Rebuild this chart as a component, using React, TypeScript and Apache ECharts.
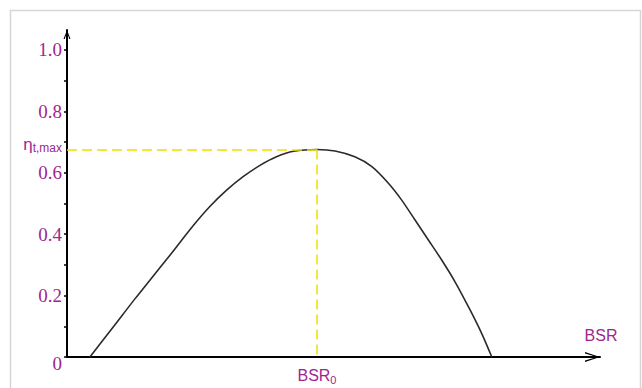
import React, { useEffect, useRef } from "react";
import * as echarts from "echarts";

// Curve: thermal efficiency vs BSR (x in arbitrary units 0..100 along the axis)
const bsrValues = [4.3, 8.6, 13.0, 18.7, 23.7, 26.8, 30.0, 33.1, 36.2, 39.3, 42.5, 46.9, 50.3, 54.0, 57.2, 60.3, 62.8, 65.3, 67.8, 70.3, 72.8, 75.6, 77.9, 79.7];
const etaValues = [0, 0.096, 0.195, 0.318, 0.428, 0.49, 0.544, 0.588, 0.624, 0.652, 0.67, 0.676, 0.671, 0.652, 0.62, 0.566, 0.511, 0.446, 0.381, 0.316, 0.245, 0.154, 0.073, 0];

const peakBsr = 46.9;
const peakEta = 0.676;

const yTickValues = [0, 0.1, 0.2, 0.3, 0.4, 0.5, 0.6, 0.7, 0.8, 0.9, 1.0];
const yLabelValues = [0, 0.2, 0.4, 0.6, 0.8, 1.0];

const PURPLE = "#a0268f";
const YELLOW = "#f0e000";

export default function App() {
  const ref = useRef<HTMLDivElement>(null);

  useEffect(() => {
    document.body.style.margin = "0";
    const chart = echarts.init(ref.current!, null, { renderer: "svg" });
    const option = {
      animation: false,
      backgroundColor: "#ffffff",
      grid: { left: 67, right: 42, top: 30, bottom: 31, containLabel: false },
      graphic: [
        {
          type: "rect",
          z: -10,
          shape: { x: 10.5, y: 10.5, width: 630, height: 400 },
          style: { fill: "none", stroke: "#d6d6d6", lineWidth: 1.5 },
          silent: true,
        },
      ],
      xAxis: {
        type: "value",
        min: 0,
        max: 100,
        name: "BSR",
        nameLocation: "end",
        nameGap: 1,
        nameTextStyle: {
          fontFamily: "Liberation Sans, Arial, sans-serif",
          fontSize: 16,
          color: PURPLE,
          align: "center",
          verticalAlign: "bottom",
          padding: [0, 0, 14, 0],
        },
        splitLine: { show: false },
        axisTick: { show: false },
        axisLine: {
          show: true,
          lineStyle: { color: "#000", width: 2 },
          symbol: ["none", "path://M5,0 L10,15 L8.6,15 L5,3.2 L1.4,15 L0,15 Z"],
          symbolSize: [10, 15],
          symbolOffset: [0, -7.5],
        },
        axisLabel: {
          show: true,
          customValues: [peakBsr],
          margin: 8,
          formatter: () => "{a|BSR}{b|0}",
          rich: {
            a: { fontFamily: "Liberation Sans, Arial, sans-serif", fontSize: 16, color: PURPLE },
            b: { fontFamily: "Liberation Sans, Arial, sans-serif", fontSize: 11, color: PURPLE, padding: [9, 0, 0, 0] },
          },
        },
      },
      yAxis: {
        type: "value",
        min: 0,
        max: 1.065,
        splitLine: { show: false },
        axisLine: {
          show: true,
          lineStyle: { color: "#000", width: 2 },
          symbol: ["none", "path://M3.5,0 L7,9 L5.8,9 L3.5,2.4 L1.2,9 L0,9 Z"],
          symbolSize: [7, 9],
          symbolOffset: [0, -4.5],
        },
        axisTick: {
          show: true,
          customValues: yTickValues,
          length: 3,
          lineStyle: { color: "#000", width: 1.5 },
        },
        axisLabel: {
          show: true,
          customValues: [...yLabelValues, peakEta],
          margin: 5,
          formatter: (v: number) => {
            if (Math.abs(v - peakEta) < 1e-6) return "{eta|η}{sub|t,max}";
            if (v === 0) return "{z|0}";
            return "{n|" + v.toFixed(1) + "}";
          },
          rich: {
            n: { fontFamily: "Liberation Serif, Times New Roman, serif", fontSize: 19, color: PURPLE },
            z: { fontFamily: "Liberation Serif, Times New Roman, serif", fontSize: 19, color: PURPLE, padding: [12, 0, 0, 0] },
            eta: { fontFamily: "Liberation Sans, Arial, sans-serif", fontSize: 17, color: PURPLE, padding: [0, 0, 10, 0] },
            sub: { fontFamily: "Liberation Sans, Arial, sans-serif", fontSize: 12, color: PURPLE, padding: [0, 0, 2, 0] },
          },
        },
      },
      series: [
        {
          type: "line",
          data: bsrValues.map((x, i) => [x, etaValues[i]]),
          showSymbol: false,
          smooth: 0.25,
          lineStyle: { color: "#2a2a2a", width: 1.6 },
          markLine: {
            silent: true,
            symbol: "none",
            label: { show: false },
            lineStyle: { color: YELLOW, type: [10, 5], width: 1.5 },
            data: [
              [{ coord: [0, peakEta] }, { coord: [peakBsr, peakEta] }],
              [{ coord: [peakBsr, peakEta] }, { coord: [peakBsr, 0] }],
            ],
          },
        },
      ],
    };
    chart.setOption(option as any);
    return () => chart.dispose();
  }, []);

  return <div ref={ref} style={{ position: "absolute", left: 0, top: 0, width: 642, height: 388 }} />;
}
